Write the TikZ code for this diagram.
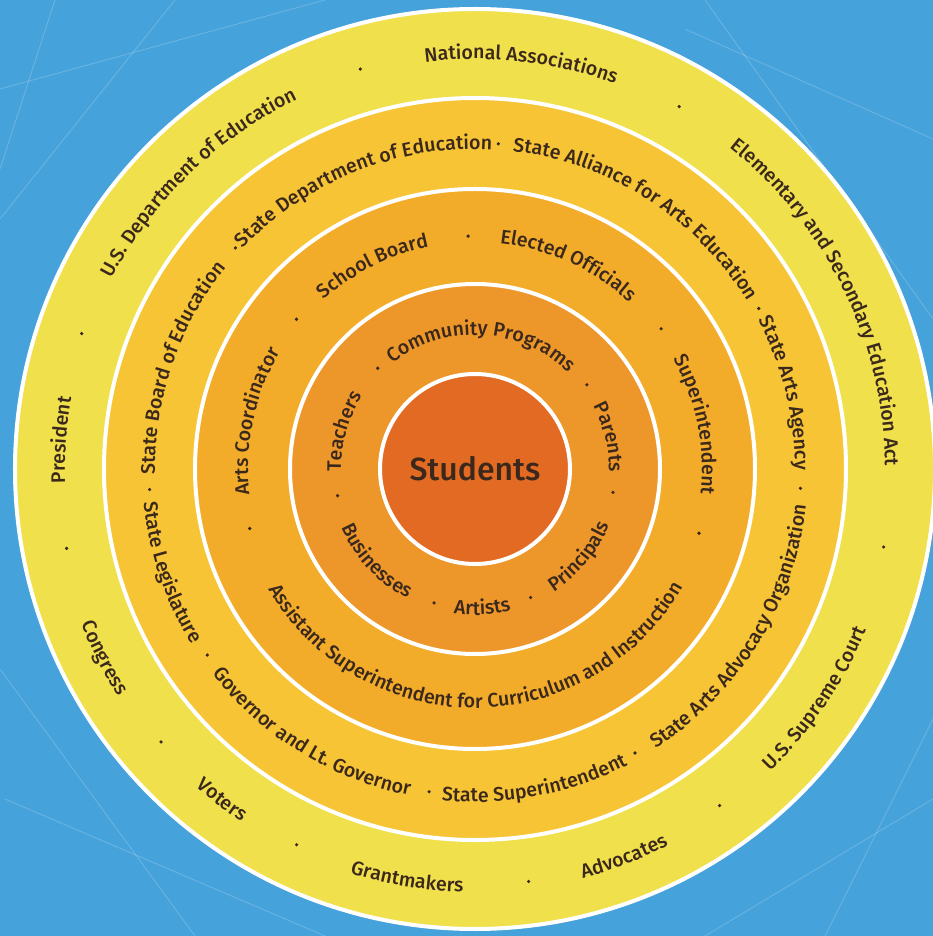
\documentclass[tikz,border=0pt]{standalone}
\usepackage{fontspec}
\usepackage{xcolor}
\usetikzlibrary{decorations.text}
\newfontfamily\ringfont{Fira Sans Medium}
\definecolor{sky}{RGB}{69,162,218}
\definecolor{ringfive}{RGB}{240,224,76}
\definecolor{ringfour}{RGB}{246,196,52}
\definecolor{ringthree}{RGB}{243,172,42}
\definecolor{ringtwo}{RGB}{237,150,42}
\definecolor{ringone}{RGB}{227,106,34}
\definecolor{ink}{RGB}{59,40,28}
\tikzset{
  ring/.style={draw=white, line width=4pt},
  sep/.style={fill=ink}
}
% text running clockwise (top half) / counter-clockwise (bottom half)
\newcommand{\cwlabel}[3]{\path[decorate, decoration={text along path, text={#3}, text color=ink, text align=center}]
  (#1+100:#2) arc[start angle=#1+100, end angle=#1-100, radius=#2];}
\newcommand{\ccwlabel}[3]{\path[decorate, decoration={text along path, text={#3}, text color=ink, text align=center}]
  (#1-100:#2) arc[start angle=#1-100, end angle=#1+100, radius=#2];}

\begin{document}
\begin{tikzpicture}[x=1pt, y=1pt]
\fill[sky] (-475,-467) rectangle (458,469);
\useasboundingbox (-475,-467) rectangle (458,469);

% faint network in the background
\foreach \x/\y/\u/\v in {-475/380/-150/469, -475/250/-300/469, -420/469/-475/300, 210/440/458/330, 230/469/458/150, 350/-467/458/-250, 230/-467/458/-330, -475/-200/-280/-467, -470/-330/-150/-467}
  \draw[white, opacity=0.18, line width=1pt] (\x,\y) -- (\u,\v);

\filldraw[fill=ringfive, ring] (0,0) circle [radius=460];
\filldraw[fill=ringfour, ring] (0,0) circle [radius=371];
\filldraw[fill=ringthree, ring] (0,0) circle [radius=280];
\filldraw[fill=ringtwo, ring] (0,0) circle [radius=185];
\filldraw[fill=ringone, ring] (0,0) circle [radius=95];

\node[font=\ringfont\fontsize{32}{36}\selectfont, text=ink] (students) at (0,0) {Students};

\ringfont\fontsize{19.6}{24}\selectfont

% outer ring
\cwlabel{83.5}{410}{National Associations}
\cwlabel{26}{410}{Elementary and Secondary Education Act}
\ccwlabel{-34}{423}{U.S. Supreme Court}
\ccwlabel{-69}{423}{Advocates}
\ccwlabel{-99.4}{423}{Grantmakers}
\ccwlabel{-127.4}{423}{Voters}
\ccwlabel{-153}{423}{Congress}
\cwlabel{176}{410}{President}
\cwlabel{134}{410}{U.S. Department of Education}
\foreach \a in {60.6, -10.8, -54, -82.6, -115.4, -139, 191, 161, 106}
  \fill[sep] (\a:416) circle [radius=1.8];

% state ring
\cwlabel{161}{320}{State Board of Education}
\cwlabel{111.7}{320}{State Department of Education}
\cwlabel{57.4}{320}{State Alliance for Arts Education}
\cwlabel{13.8}{320}{State Arts Agency}
\ccwlabel{-31.7}{333}{State Arts Advocacy Organization}
\ccwlabel{-79.2}{333}{State Superintendent}
\ccwlabel{-121.7}{333}{Governor and Lt. Governor}
\ccwlabel{-161.2}{333}{State Legislature}
\foreach \a in {137.3, 85.9, 29.5, -3.4, -60.6, -98.1, -145.2, 183.6}
  \fill[sep] (\a:326) circle [radius=1.8];

% district ring
\cwlabel{167.7}{227}{Arts Coordinator}
\cwlabel{116.7}{227}{School Board}
\cwlabel{65.5}{227}{Elected Officials}
\cwlabel{11.4}{227}{Superintendent}
\ccwlabel{-89.7}{239}{Assistant Superintendent for Curriculum and Instruction}
\foreach \a in {140, 91.7, 37, -16, 194.8}
  \fill[sep] (\a:233) circle [radius=1.8];

% school ring
\cwlabel{87}{134}{Community Programs}
\cwlabel{13.5}{134}{Parents}
\ccwlabel{-40}{146}{Principals}
\ccwlabel{-87}{146}{Artists}
\ccwlabel{-137}{146}{Businesses}
\cwlabel{164}{134}{Teachers}
\foreach \a in {37, -9.6, -66.6, -107, 191, 134}
  \fill[sep] (\a:140) circle [radius=1.8];

\end{tikzpicture}
\end{document}
